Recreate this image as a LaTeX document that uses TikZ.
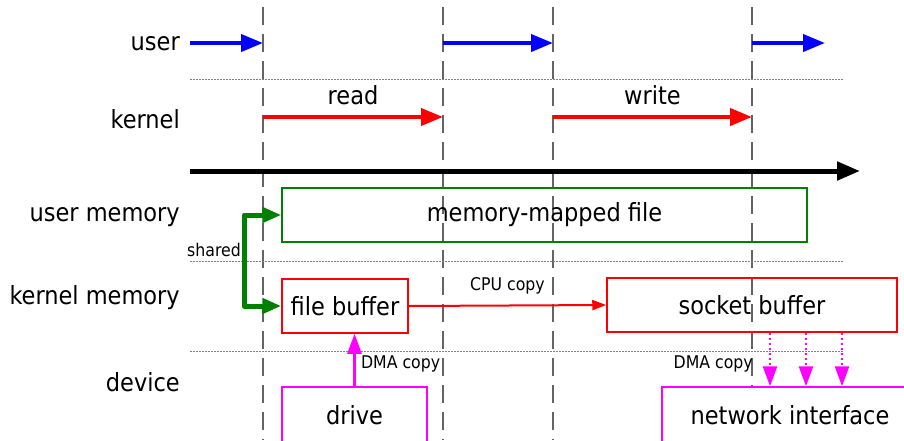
\documentclass[tikz,border=0pt]{standalone}
\usepackage{fontspec}
\setmainfont{DejaVu Sans Condensed}
\usetikzlibrary{arrows.meta}

\definecolor{tickgray}{RGB}{100,100,100}
\definecolor{mapgreen}{RGB}{0,128,0}
\definecolor{devpink}{RGB}{255,0,255}
\definecolor{runblue}{RGB}{0,0,255}
\definecolor{runred}{RGB}{255,0,0}

\begin{document}
\begin{tikzpicture}[x=1pt,y=-1pt,
      big/.style={font=\fontsize{25}{29}\selectfont,text=black},
      small/.style={font=\fontsize{17.5}{20}\selectfont,text=black},
      rowlabel/.style={big,anchor=east,inner sep=0pt},
      phase/.style={draw=tickgray,line width=2pt,dash pattern=on 18pt off 9pt},
      sep/.style={draw=gray,line width=1pt,dash pattern=on 1.5pt off 1.5pt},
      run/.style={line width=4pt,-{Triangle[length=22pt,width=17pt]}},
      membox/.style={draw,line width=1.5pt,inner sep=0pt,big,minimum height=54pt},
      devbox/.style={draw=devpink,line width=1.5pt,inner sep=0pt,big,
        minimum height=56pt}]
    \useasboundingbox (0,0) rectangle (904,440);

    % phase boundaries
    \foreach \x in {263,443,553}
      \draw[phase] (\x,7) -- (\x,440);
    \draw[phase] (752,7) -- (752,387);

    % row labels
    \node[rowlabel] (luser) at (180,44) {user};
    \node[rowlabel] (lkern) at (180,119) {kernel};
    \node[rowlabel] (lumem) at (180,217) {user memory};
    \node[rowlabel] (lkmem) at (180,298) {kernel memory};
    \node[rowlabel] (ldev) at (180,382) {device};

    % separators
    \draw[sep] (190,79) -- (843,79);
    \draw[sep] (190,261) -- (843,261);
    \draw[sep] (190,351) -- (843,351);

    % who runs when
    \draw[run,runblue] (190,43) -- (263,43);
    \draw[run,runblue] (443,43) -- (553,43);
    \draw[run,runblue] (752,43) -- (825,43);
    \draw[run,runred] (263,117) -- node[big,above=7pt] (rd) {read} (443,117);
    \draw[run,runred] (553,117) -- node[big,above=7pt] (wr) {write} (752,117);
    \draw[line width=5pt,-{Triangle[length=23pt,width=18pt]}] (190,171) -- (860,171);

    % buffers
    \node[membox,draw=mapgreen,minimum width=525pt] (mmap) at (544.5,215) {memory-mapped file};
    \node[membox,draw=runred,minimum width=126pt] (fbuf) at (345,306) {file buffer};
    \node[membox,draw=runred,minimum width=290pt] (sbuf) at (752,305) {socket buffer};

    % devices
    \node[devbox,minimum width=145pt] (drive) at (354.5,415) {drive};
    \node[devbox,minimum width=256pt] (net) at (790,415) {network interface};

    % shared mapping
    \draw[mapgreen,line width=5pt,line join=round,
      {Triangle[length=19pt,width=15pt]}-{Triangle[length=19pt,width=15pt]}]
      (mmap.west) -- ++(-37,0) |- (fbuf.west);
    \node[small,anchor=east,inner sep=0pt] (shr) at (241,250) {shared};

    % copies
    \draw[runred,line width=2pt,-{Triangle[length=14pt,width=10pt]}]
      (fbuf.east) -- node[small,above=7pt] (cpu) {CPU copy} (sbuf.west);
    \draw[devpink,line width=2.5pt,-{Triangle[length=20pt,width=14pt]}]
      (drive.north) -- node[small,right=2pt,yshift=-4pt] (dma1) {DMA copy} (drive.north |- fbuf.south);
    \foreach \s in {18,54,90}
      \draw[devpink,line width=2.5pt,dash pattern=on 2.5pt off 2.5pt,
        -{Triangle[length=20pt,width=14pt]}]
        ([xshift=\s]sbuf.south) coordinate (s) -- (s |- net.north);
    \node[small,anchor=east,inner sep=0pt] (dma2) at (753,364) {DMA copy};
  \end{tikzpicture}
\end{document}
